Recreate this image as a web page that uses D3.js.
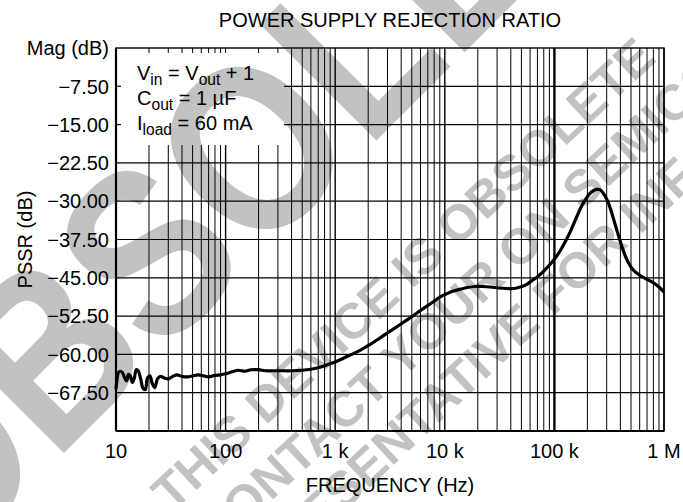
<!DOCTYPE html>
<html>
<head>
<meta charset="utf-8">
<script src="https://cdn.jsdelivr.net/npm/d3@7"></script>
<style>
  body { margin: 0; background: #fff; }
  svg { display: block; font-family: "Liberation Sans", Arial, Helvetica, sans-serif; }
</style>
</head>
<body>
<svg id="chart" width="683" height="502"></svg>
<script>
// PSSR vs frequency
const freq = [10, 10.2, 10.5, 10.9, 11.4, 12.0, 12.5, 13.0, 13.5, 14.1, 14.7, 15.3, 16.0, 16.8, 17.6, 18.5,
  19.4, 20.4, 21.5, 22.6, 23.9, 25.5, 27.5, 30, 33, 36, 40, 45, 50, 56, 63, 70, 80, 90, 100, 115, 130, 150,
  170, 200, 230, 270, 320, 400, 500, 600, 700, 830, 1000, 1200, 1450, 1750, 2100, 2550, 3100, 3700, 4500,
  5400, 6500, 7850, 9000, 10500, 12000, 14000, 16000, 19000, 22000, 26000, 31000, 37000, 43000, 49000,
  55000, 62000, 70000, 80000, 91000, 103000, 115000, 128000, 142000, 158000, 175000, 193000, 210000,
  228000, 245000, 262000, 280000, 300000, 325000, 350000, 380000, 415000, 455000, 500000, 550000, 620000,
  700000, 800000, 900000, 1000000];
const pssr = [-66.8, -65.0, -63.6, -63.3, -63.5, -64.6, -65.2, -63.9, -64.2, -65.5, -64.6, -63.0, -63.3, -64.8,
  -66.6, -66.9, -64.6, -64.2, -65.8, -66.5, -64.8, -64.3, -64.6, -64.8, -64.3, -64.0, -64.3, -64.4, -64.2,
  -64.0, -64.2, -64.4, -64.1, -64.0, -63.8, -63.4, -63.1, -63.3, -63.0, -63.0, -63.2, -63.2, -63.2, -63.2,
  -63.1, -62.9, -62.6, -62.1, -61.5, -60.7, -59.9, -59.0, -58.0, -56.8, -55.6, -54.5, -53.3, -52.1, -50.9,
  -49.7, -48.8, -48.1, -47.6, -47.2, -46.9, -46.7, -46.7, -46.8, -47.0, -47.1, -47.1, -46.8, -46.4, -45.6,
  -44.8, -43.7, -42.4, -41.0, -39.4, -37.6, -35.6, -33.3, -31.2, -29.6, -28.5, -27.9, -27.7, -27.8, -28.5,
  -29.6, -31.5, -33.8, -36.4, -39.0, -41.3, -42.9, -43.9, -44.7, -45.3, -46.0, -46.8, -47.8];

const yTicks = [0, -7.5, -15, -22.5, -30, -37.5, -45, -52.5, -60, -67.5, -75];
const yTickLabels = ["Mag (dB)", "−7.50", "−15.00", "−22.50", "−30.00", "−37.50", "−45.00", "−52.50", "−60.00", "−67.50", ""];
const xTicks = [10, 100, 1e3, 1e4, 1e5, 1e6];
const xTickLabels = ["10", "100", "1 k", "10 k", "100 k", "1 M"];
// [text, isSubscript]
const conditions = [
  [["V", 0], ["in", 1], [" = V", 0], ["out", 1], [" + 1", 0]],
  [["C", 0], ["out", 1], [" = 1 µF", 0]],
  [["I", 0], ["load", 1], [" = 60 mA", 0]]
];
const stampWord = "OBSOLETE";
const stampLines = ["THIS DEVICE IS OBSOLETE", "CONTACT YOUR ON SEMICONDUCTOR", "REPRESENTATIVE FOR INFORMATION"];

const M = { t: 48, r: 19, b: 71, l: 116 };
const W = 683, H = 502;
const svg = d3.select('#chart');

const x = d3.scaleLog().domain([10, 1e6]).range([M.l, W - M.r]);
const y = d3.scaleLinear().domain([-75, 0]).range([H - M.b, M.t]);

// watermark (behind everything)
const wm = svg.append('g').attr('fill', '#c2c2c2').attr('font-weight', 'bold');
wm.append('text').attr('transform', 'translate(-58,575) rotate(-45) scale(0.85,1)')
  .attr('font-size', 240).text(stampWord);
const wl = wm.append('g').attr('transform', 'translate(172,513) rotate(-43)').attr('font-size', 50);
const lineOff = [[0, 0], [5, 59], [-47, 116]];
stampLines.forEach((s, i) => wl.append('text').attr('x', lineOff[i][0]).attr('y', lineOff[i][1]).text(s));

// legend box area has no grid
const box = { r: 284, b: 145 };

// grid
const minor = [];
d3.range(1, 6).forEach(e => d3.range(1, 10).forEach(m => minor.push(m * Math.pow(10, e))));
minor.push(1e6);
const g = svg.append('g').attr('stroke', '#000');
g.selectAll('line.v').data(minor).join('line').attr('class', 'v')
  .attr('x1', d => x(d)).attr('x2', d => x(d))
  .attr('y1', d => x(d) < box.r ? box.b : y(0)).attr('y2', y(-75))
  .attr('stroke-width', d => d === 1e5 ? 2.4 : (xTicks.includes(d) ? 1.4 : 1));
// small ticks along top edge inside the box
g.selectAll('line.tt').data(minor.filter(d => x(d) < box.r && d > 10)).join('line').attr('class', 'tt')
  .attr('x1', d => x(d)).attr('x2', d => x(d)).attr('y1', y(0)).attr('y2', y(0) + 5).attr('stroke-width', 1);
g.selectAll('line.h').data(yTicks.slice(1, -1)).join('line').attr('class', 'h')
  .attr('x1', d => y(d) < box.b ? box.r : x(10)).attr('x2', x(1e6))
  .attr('y1', d => y(d)).attr('y2', d => y(d)).attr('stroke-width', 1.2);
g.selectAll('line.lt').data(yTicks.filter(d => y(d) < box.b && d < 0)).join('line').attr('class', 'lt')
  .attr('x1', x(10)).attr('x2', x(10) + 5).attr('y1', d => y(d)).attr('y2', d => y(d)).attr('stroke-width', 1.2);

// frame
g.append('rect').attr('x', x(10)).attr('y', y(0)).attr('width', x(1e6) - x(10)).attr('height', y(-75) - y(0))
  .attr('fill', 'none').attr('stroke-width', 1.4);
g.append('line').attr('x1', x(10)).attr('x2', x(10)).attr('y1', y(0)).attr('y2', y(-75)).attr('stroke-width', 2.2);
g.append('line').attr('x1', x(10)).attr('x2', x(1e6)).attr('y1', y(-75)).attr('y2', y(-75)).attr('stroke-width', 2.2);

// curve
const pts = freq.map((f, i) => [f, pssr[i]]);
svg.append('path').datum(pts)
  .attr('fill', 'none').attr('stroke', '#000').attr('stroke-width', 3.2).attr('stroke-linejoin', 'round')
  .attr('d', d3.line().x(d => x(d[0])).y(d => y(d[1])).curve(d3.curveCatmullRom));

// tick labels
const fs = 20;
svg.append('g').selectAll('text').data(yTicks).join('text')
  .attr('x', M.l - 7).attr('y', d => y(d)).attr('dy', '0.36em').attr('text-anchor', 'end')
  .attr('font-size', fs).text((d, i) => yTickLabels[i]);
svg.append('g').selectAll('text').data(xTicks).join('text')
  .attr('x', d => x(d)).attr('y', 458).attr('text-anchor', 'middle')
  .attr('font-size', fs).text((d, i) => xTickLabels[i]);

// titles
svg.append('text').attr('x', (x(10) + x(1e6)) / 2).attr('y', 27).attr('text-anchor', 'middle')
  .attr('font-size', fs).text('POWER SUPPLY REJECTION RATIO');
svg.append('text').attr('x', (x(10) + x(1e6)) / 2).attr('y', 492).attr('text-anchor', 'middle')
  .attr('font-size', fs).text('FREQUENCY (Hz)');
svg.append('text').attr('transform', `translate(32,${(y(0) + y(-75)) / 2}) rotate(-90)`)
  .attr('text-anchor', 'middle').attr('font-size', fs).text('PSSR (dB)');

// test conditions
const tb = svg.append('g').attr('font-size', fs);
conditions.forEach((parts, i) => {
  const t = tb.append('text').attr('x', 137).attr('y', 80 + i * 25);
  let low = false;
  parts.forEach(([s, sub]) => {
    const ts = t.append('tspan').text(s);
    if (sub) { ts.attr('font-size', fs * 0.78).attr('dy', 5); low = true; }
    else if (low) { ts.attr('dy', -5); low = false; }
  });
});
</script>
</body>
</html>
